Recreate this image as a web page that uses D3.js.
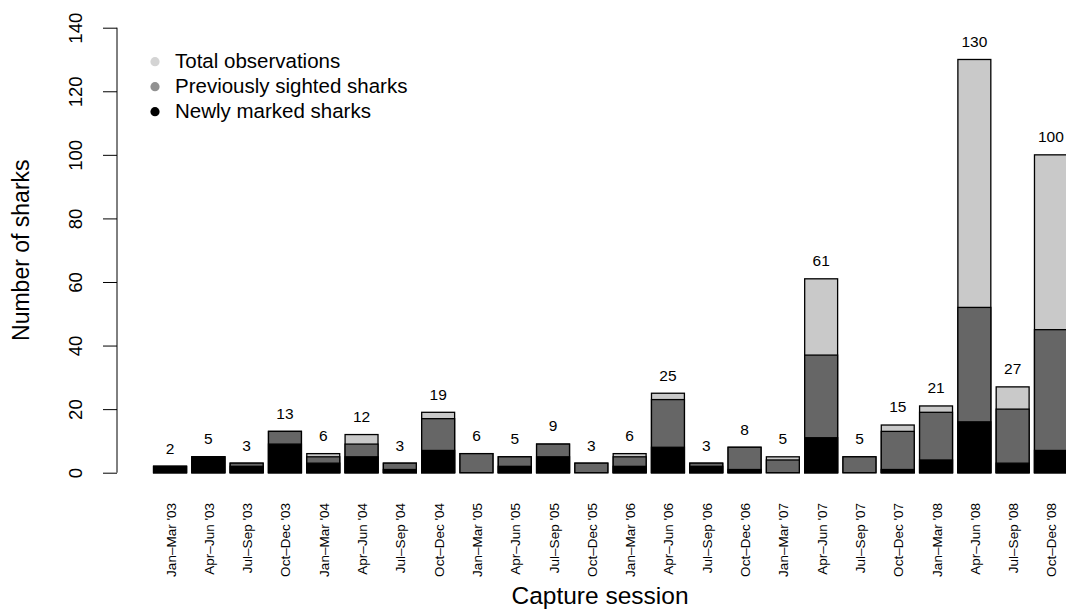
<!DOCTYPE html>
<html>
<head>
<meta charset="utf-8">
<script src="https://cdn.jsdelivr.net/npm/d3@7"></script>
<style>
  html, body { margin: 0; padding: 0; background: #fff; }
  svg { display: block; font-family: "Liberation Sans", Arial, Helvetica, sans-serif; }
</style>
</head>
<body>
<svg id="chart" width="1066" height="611"></svg>
<script>
// Capture sessions (quarterly)
const categories = [
  "Jan–Mar '03", "Apr–Jun '03", "Jul–Sep '03", "Oct–Dec '03",
  "Jan–Mar '04", "Apr–Jun '04", "Jul–Sep '04", "Oct–Dec '04",
  "Jan–Mar '05", "Apr–Jun '05", "Jul–Sep '05", "Oct–Dec '05",
  "Jan–Mar '06", "Apr–Jun '06", "Jul–Sep '06", "Oct–Dec '06",
  "Jan–Mar '07", "Apr–Jun '07", "Jul–Sep '07", "Oct–Dec '07",
  "Jan–Mar '08", "Apr–Jun '08", "Jul–Sep '08", "Oct–Dec '08"
];
// Newly marked sharks per session
const newlyMarked = [2, 5, 2, 9, 3, 5, 1, 7, 0, 2, 5, 0, 2, 8, 2, 1, 0, 11, 0, 1, 4, 16, 3, 7];
// Previously sighted sharks per session
const previouslySighted = [0, 0, 1, 4, 2, 4, 2, 10, 6, 3, 4, 3, 3, 15, 1, 7, 4, 26, 5, 12, 15, 36, 17, 38];
// Total observations per session
const totalObs = [2, 5, 3, 13, 6, 12, 3, 19, 6, 5, 9, 3, 6, 25, 3, 8, 5, 61, 5, 15, 21, 130, 27, 100];
// Y axis ticks
const yTicks = [0, 20, 40, 60, 80, 100, 120, 140];

const legendItems = ["Total observations", "Previously sighted sharks", "Newly marked sharks"];
const legendColors = ["#d4d4d4", "#919191", "#000000"];

const colTotal = "#c9c9c9";
const colPrev = "#666666";
const colNew = "#000000";

const svg = d3.select("#chart");

const x = d3.scaleBand()
  .domain(categories)
  .range([150.9, 150.9 + 24 * 38.3])
  .paddingInner(0.14)
  .paddingOuter(0.07);

const y = d3.scaleLinear().domain([0, 140]).range([472.7, 27.7]);

const rows = categories.map((c, i) => ({
  cat: c,
  total: totalObs[i],
  cum: newlyMarked[i] + previouslySighted[i],
  fresh: newlyMarked[i]
}));

const bars = svg.append("g").attr("class", "bars");

// Overlaid bars: total behind, newly + previously sighted, then newly marked on top
const layers = [
  { key: "total", fill: colTotal },
  { key: "cum", fill: colPrev },
  { key: "fresh", fill: colNew }
];
layers.forEach(layer => {
  bars.append("g")
    .selectAll("rect")
    .data(rows.filter(d => d[layer.key] > 0))
    .join("rect")
    .attr("x", d => x(d.cat))
    .attr("width", x.bandwidth())
    .attr("y", d => y(d[layer.key]))
    .attr("height", d => y(0) - y(d[layer.key]))
    .attr("fill", layer.fill)
    .attr("stroke", "#000")
    .attr("stroke-width", 1.3);
});

// Total labels above each bar
svg.append("g")
  .selectAll("text")
  .data(rows)
  .join("text")
  .attr("x", d => x(d.cat) + x.bandwidth() / 2)
  .attr("y", d => y(d.total) - 12.6)
  .attr("text-anchor", "middle")
  .attr("font-size", 15.5)
  .attr("fill", "#000")
  .text(d => d.total);

// Y axis
const yAxis = svg.append("g")
  .attr("transform", "translate(117,0)")
  .call(d3.axisLeft(y).tickValues(yTicks).tickSize(14).tickFormat(d3.format("d")));
yAxis.select(".domain").attr("stroke", "#000").attr("stroke-width", 1).attr("d", `M0,${y(0)}V${y(140)}`);
yAxis.selectAll(".tick line").attr("stroke", "#000").attr("stroke-width", 1);
yAxis.selectAll(".tick text")
  .attr("x", null).attr("dy", null)
  .attr("text-anchor", "middle")
  .attr("font-size", 18.5)
  .attr("font-family", "Liberation Sans, Arial, sans-serif")
  .attr("fill", "#000")
  .attr("transform", "translate(-35,0) rotate(-90)");

// X category labels, vertical
svg.append("g")
  .selectAll("text")
  .data(categories)
  .join("text")
  .attr("transform", d => `translate(${x(d) + x.bandwidth() / 2 + 5.5},503) rotate(-90)`)
  .attr("text-anchor", "end")
  .attr("font-size", 13.5)
  .attr("fill", "#000")
  .text(d => d);

// Axis titles
svg.append("text")
  .attr("x", 600).attr("y", 604)
  .attr("text-anchor", "middle")
  .attr("font-size", 24.5)
  .text("Capture session");

svg.append("text")
  .attr("transform", `translate(29,${(y(0) + y(140)) / 2}) rotate(-90)`)
  .attr("text-anchor", "middle")
  .attr("font-size", 23)
  .text("Number of sharks");

// Legend
const legend = svg.append("g").attr("class", "legend");
legendItems.forEach((label, i) => {
  const by = 68.3 + i * 25;
  legend.append("circle")
    .attr("cx", 155).attr("cy", by - 6.6).attr("r", 4.6)
    .attr("fill", legendColors[i]);
  legend.append("text")
    .attr("x", 175).attr("y", by)
    .attr("font-size", 20.5)
    .text(label);
});
</script>
</body>
</html>
